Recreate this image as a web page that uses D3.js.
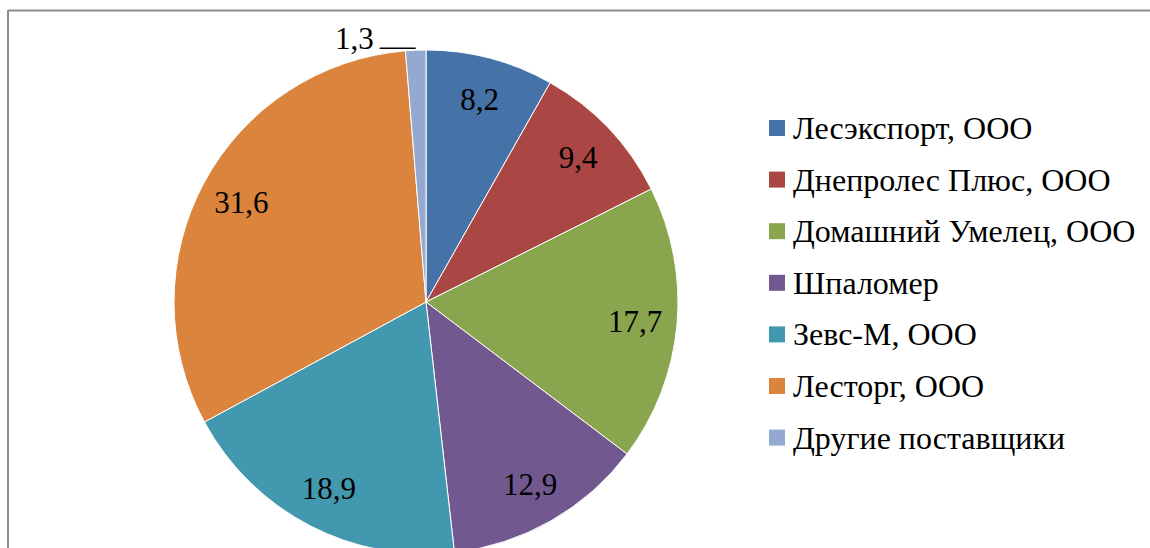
<!DOCTYPE html>
<html>
<head>
<meta charset="UTF-8">
<title>Поставщики</title>
<script src="https://cdn.jsdelivr.net/npm/d3@7"></script>
<style>
  body { margin: 0; background: #fff; }
</style>
</head>
<body>
<svg id="chart" width="1150" height="548"></svg>
<script>
// data
var suppliers = ["Лесэкспорт, ООО", "Днепролес Плюс, ООО", "Домашний Умелец, ООО",
                 "Шпаломер", "Зевс-М, ООО", "Лесторг, ООО", "Другие поставщики"];
var shares = [8.2, 9.4, 17.7, 12.9, 18.9, 31.6, 1.3];
var colors = ["#4572A7", "#AA4643", "#89A54E", "#71588F", "#4198AF", "#DB843D", "#93A9CF"];

var serif = "'Liberation Serif'";

var svg = d3.select("#chart");

// frame (only top and left edges visible)
svg.append("line").attr("x1", 8).attr("y1", 10.5).attr("x2", 1150).attr("y2", 10.5)
   .attr("stroke", "#8c8c8c").attr("stroke-width", 2);
svg.append("line").attr("x1", 8).attr("y1", 10).attr("x2", 8).attr("y2", 548)
   .attr("stroke", "#8c8c8c").attr("stroke-width", 2);

var cx = 426, cy = 302, radius = 252;

var pie = d3.pie().sort(null).value(function (d) { return d; });
var arcs = pie(shares);

var arc = d3.arc().innerRadius(0).outerRadius(radius);
var labelArc = d3.arc().innerRadius(210).outerRadius(210);
var edgeArc = d3.arc().innerRadius(radius).outerRadius(radius);

var g = svg.append("g").attr("transform", "translate(" + cx + "," + cy + ")");

g.selectAll("path.slice")
  .data(arcs)
  .enter().append("path")
  .attr("class", "slice")
  .attr("d", arc)
  .attr("fill", function (d, i) { return colors[i]; })
  .attr("stroke", "#fff")
  .attr("stroke-width", 1);

var fmt = function (v) { return String(v).replace(".", ","); };

// labels: inside for big slices, outside with leader for tiny one
arcs.forEach(function (d, i) {
  if (d.value < 3) {
    var e = edgeArc.centroid(d);
    g.append("line")
      .attr("x1", e[0] - 36).attr("y1", e[1] - 2)
      .attr("x2", e[0]).attr("y2", e[1] - 2)
      .attr("stroke", "#000").attr("stroke-width", 1.5);
    g.append("text")
      .attr("x", e[0] - 42).attr("y", e[1] - 1)
      .attr("text-anchor", "end")
      .style("font-family", serif)
      .style("font-size", "31px")
      .text(fmt(d.value));
  } else {
    var c = labelArc.centroid(d);
    g.append("text")
      .attr("x", c[0]).attr("y", c[1])
      .attr("dy", "0.35em")
      .attr("text-anchor", "middle")
      .style("font-family", serif)
      .style("font-size", "31px")
      .text(fmt(d.value));
  }
});

// legend
var legend = svg.append("g").attr("transform", "translate(769,128)");
var rowH = 51.6;
suppliers.forEach(function (name, i) {
  var row = legend.append("g").attr("transform", "translate(0," + (i * rowH) + ")");
  row.append("rect").attr("x", 0).attr("y", -8).attr("width", 16).attr("height", 16)
     .attr("fill", colors[i]);
  row.append("text").attr("x", 24).attr("y", 11)
     .style("font-family", serif)
     .style("font-size", "32px")
     .text(name);
});
</script>
</body>
</html>
